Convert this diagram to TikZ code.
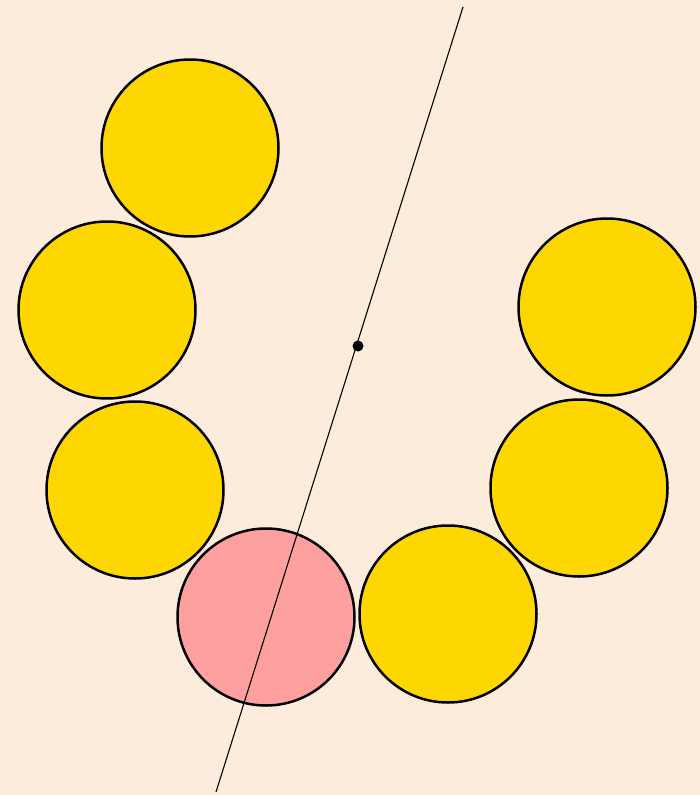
\documentclass[tikz,border=0pt]{standalone}
\definecolor{bg}{HTML}{FDEBDC}
\definecolor{gold}{HTML}{FFD700}
\definecolor{pinkc}{HTML}{FFA0A0}
\begin{document}
\begin{tikzpicture}[x=1pt,y=-1pt,
  disc/.style={circle,draw=black,line width=2.5pt,minimum size=177pt,inner sep=0pt,fill=gold},
  pinkdisc/.style={disc,fill=pinkc}]
\fill[bg] (0,0) rectangle (700,795);
\useasboundingbox (0,0) rectangle (700,795);
\node[disc] (c1) at (190,148) {};
\node[disc] (c2) at (107,310) {};
\node[disc] (c3) at (135,490) {};
\node[pinkdisc] (c4) at (266,617) {};
\node[disc] (c5) at (448,614) {};
\node[disc] (c6) at (579,488) {};
\node[disc] (c7) at (607,307) {};
\coordinate (top) at (463,7);
\coordinate (bot) at (216,792);
\draw[line width=1.1pt] (top) -- (bot);
\fill (358,346) circle (5.5);
\end{tikzpicture}
\end{document}
